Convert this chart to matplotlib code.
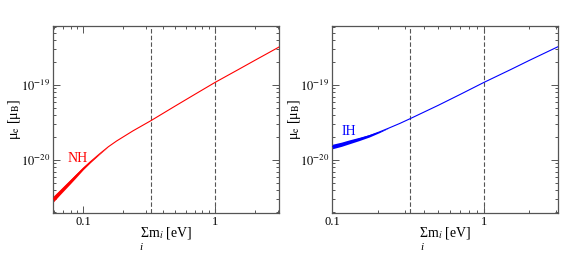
import matplotlib
matplotlib.use("Agg")
import matplotlib.pyplot as plt
from matplotlib.ticker import NullFormatter, FixedLocator, FixedFormatter

plt.rcParams["font.family"] = ["Liberation Serif", "DejaVu Serif"]
plt.rcParams["mathtext.fontset"] = "stix"

# normal hierarchy: sum of masses [eV] vs mu_e [mu_B]
nh_sum = [0.0592, 0.0665, 0.079, 0.088, 0.1, 0.113, 0.134, 0.155, 0.179,
          0.238, 0.327, 0.5, 0.7, 1.0, 1.5, 2.0, 3.08]
nh_mu = [3.02e-21, 3.72e-21, 5.07e-21, 6.17e-21, 7.76e-21, 9.44e-21,
         1.22e-20, 1.50e-20, 1.79e-20, 2.44e-20, 3.35e-20, 5.25e-20,
         7.46e-20, 1.08e-19, 1.60e-19, 2.12e-19, 3.22e-19]
nh_band_sum = [0.0592, 0.0665, 0.079, 0.088, 0.1, 0.113, 0.134, 0.155]
nh_band_lo = [2.75e-21, 3.44e-21, 4.74e-21, 5.82e-21, 7.46e-21, 9.20e-21,
              1.206e-20, 1.50e-20]
nh_band_hi = [3.30e-21, 4.03e-21, 5.43e-21, 6.54e-21, 8.07e-21, 9.68e-21,
              1.236e-20, 1.50e-20]

# inverted hierarchy
ih_sum = [0.1, 0.115, 0.129, 0.15, 0.175, 0.204, 0.237, 0.28, 0.327, 0.5,
          0.7, 1.0, 1.5, 2.0, 3.1]
ih_mu = [1.51e-20, 1.62e-20, 1.74e-20, 1.9e-20, 2.1e-20, 2.36e-20, 2.67e-20,
         3.08e-20, 3.56e-20, 5.35e-20, 7.5e-20, 1.08e-19, 1.6e-19, 2.13e-19,
         3.25e-19]
ih_band_sum = [0.1, 0.115, 0.129, 0.15, 0.175, 0.204, 0.237]
ih_band_lo = [1.41e-20, 1.52e-20, 1.64e-20, 1.81e-20, 2.02e-20, 2.31e-20,
              2.67e-20]
ih_band_hi = [1.62e-20, 1.73e-20, 1.85e-20, 2.0e-20, 2.18e-20, 2.41e-20,
              2.67e-20]

vlines = [0.327, 1.0]

SPINE = "#555555"
YLIM = (1.96e-21, 6.1e-19)


def minor_ticks(lo, hi):
    ticks = []
    for e in range(-22, 2):
        for m in range(2, 10):
            v = m * 10.0 ** e
            if lo <= v <= hi:
                ticks.append(v)
    return ticks


def setup_axes(ax, xlim, sub_x, ylab_x):
    ax.set_xscale("log")
    ax.set_yscale("log")
    ax.set_xlim(*xlim)
    ax.set_ylim(*YLIM)
    for s in ax.spines.values():
        s.set_color(SPINE)
        s.set_linewidth(0.9)
    ax.tick_params(which="both", direction="in", top=True, right=True,
                   color=SPINE, labelsize=9, width=0.7)
    ax.tick_params(which="major", length=5, pad=2)
    ax.tick_params(which="minor", length=2.5)
    ax.xaxis.set_major_locator(FixedLocator([0.1, 1]))
    ax.xaxis.set_major_formatter(FixedFormatter(["0.1", "1"]))
    ax.xaxis.set_minor_locator(FixedLocator(minor_ticks(*xlim)))
    ax.xaxis.set_minor_formatter(NullFormatter())
    ax.yaxis.set_major_locator(FixedLocator([1e-20, 1e-19]))
    ax.yaxis.set_major_formatter(
        FixedFormatter([r"$10^{-20}$", r"$10^{-19}$"]))
    ax.yaxis.set_minor_locator(FixedLocator(minor_ticks(*YLIM)))
    ax.yaxis.set_minor_formatter(NullFormatter())
    for v in vlines:
        ax.axvline(v, color=SPINE, lw=0.8, ls=(0, (4, 2)), zorder=1)
    ax.text(ylab_x, 0.5, r"μ$_\mathrm{e}$ [μ$_\mathrm{B}$]",
            transform=ax.transAxes, rotation=90, ha="center", va="center",
            fontsize=10)
    ax.text(0.5, -0.108, r"Σm$_i$ [eV]", transform=ax.transAxes,
            ha="center", va="center", fontsize=10)
    ax.text(sub_x, -0.185, "i", transform=ax.transAxes, ha="center",
            va="center", fontsize=8, style="italic")


fig = plt.figure(figsize=(5.85, 2.66), dpi=100)
ax1 = fig.add_axes([0.0911, 0.199, 0.3863, 0.703])
ax2 = fig.add_axes([0.568, 0.199, 0.3863, 0.703])

setup_axes(ax1, (0.0592, 3.08), 0.387, -0.17)
ax1.fill_between(nh_band_sum, nh_band_lo, nh_band_hi, color="#ff0000", lw=0,
                 zorder=2)
ax1.plot(nh_sum, nh_mu, color="#ff0000", lw=0.8, zorder=3)
ax1.text(0.0903, 1.05e-20, "NH", color="#ff0000", fontsize=10,
         ha="center", va="center")

setup_axes(ax2, (0.1, 3.1), 0.396, -0.165)
ax2.fill_between(ih_band_sum, ih_band_lo, ih_band_hi, color="#0000ff", lw=0,
                 zorder=2)
ax2.plot(ih_sum, ih_mu, color="#0000ff", lw=0.8, zorder=3)
ax2.text(0.129, 2.38e-20, "IH", color="#0000ff", fontsize=10,
         ha="center", va="center")

fig.savefig("out.png", dpi=100)
